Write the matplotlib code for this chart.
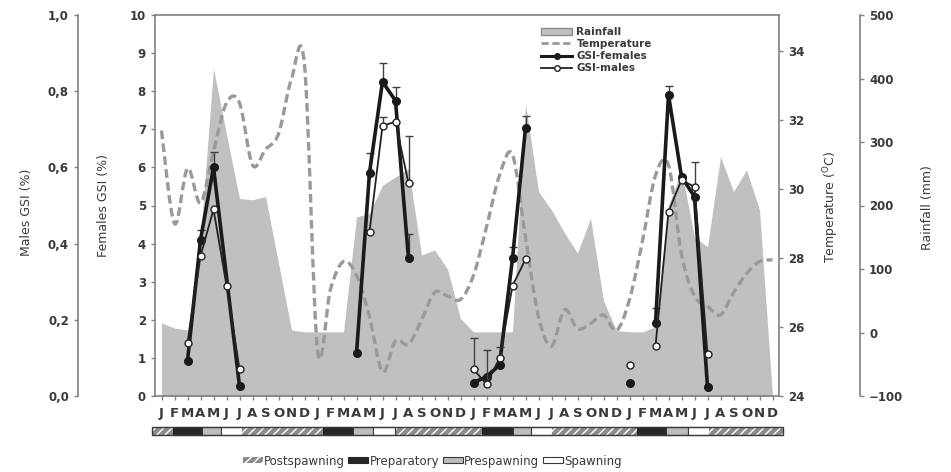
import numpy as np
import matplotlib.pyplot as plt
from matplotlib.path import Path
from matplotlib.patches import PathPatch, Patch, Rectangle
from matplotlib.lines import Line2D

plt.rcParams['font.family'] = ['DejaVu Sans']
plt.rcParams['hatch.linewidth'] = 1.0

# ---- data (48 months, Jan year 1 .. Dec year 4) ----
month_letters = list("JFMAMJJASOND") * 4
months = np.arange(48)

rainfall = [15, 7, 4, 150, 416, 312, 211, 209, 214, 109, 4, 1,
            1, 1, 1, 182, 188, 232, 245, 258, 122, 130, 100, 22,
            1, 1, 1, 1, 360, 222, 193, 157, 125, 180, 50, 3,
            1, 1, 9, 200, 255, 150, 135, 277, 222, 256, 193, -100]

temperature = [31.7, 29.0, 30.6, 29.6, 31.1, 32.5, 32.5, 30.7, 31.15, 31.6, 33.2, 33.6,
               25.35, 27.1, 27.9, 27.5, 26.3, 24.7, 25.6, 25.5, 26.2, 27.0, 26.9, 26.8,
               27.5, 28.9, 30.4, 31.0, 28.6, 26.3, 25.45, 26.5, 25.95, 26.1, 26.35, 25.9,
               26.8, 28.5, 30.4, 30.7, 28.1, 26.9, 26.6, 26.35, 27.0, 27.55, 27.9, 27.95]

fem_months = [2, 3, 4, 6, 15, 16, 17, 18, 19, 24, 25, 26, 27, 28, 36, 38, 39, 40, 41, 42]
fem_gsi = [0.93, 4.1, 6.0, 0.26, 1.12, 5.86, 8.25, 7.75, 3.61,
           0.35, 0.51, 0.81, 3.61, 7.03, 0.35, 1.91, 7.9, 5.76, 5.23, 0.23]
fem_err = [0, 0.26, 0.41, 0, 0, 0.53, 0.5, 0.35, 0.64,
           0, 0, 0, 0.3, 0.32, 0, 0.4, 0.24, 0, 0, 0]
fem_run = [0, 0, 0, 0, 1, 1, 1, 1, 1, 2, 2, 2, 2, 2, 3, 4, 4, 4, 4, 4]

male_months = [2, 3, 4, 5, 6, 16, 17, 18, 19, 24, 25, 26, 27, 28, 36, 38, 39, 40, 41, 42]
male_gsi = [0.14, 0.367, 0.49, 0.29, 0.071, 0.431, 0.709, 0.72, 0.558,
            0.07, 0.031, 0.099, 0.289, 0.359, 0.081, 0.131, 0.484, 0.567, 0.549, 0.11]
male_err = [0, 0, 0, 0, 0, 0, 0.022, 0, 0.124,
            0.082, 0.089, 0.03, 0, 0, 0, 0, 0, 0, 0.066, 0]
male_run = [0, 0, 0, 0, 0, 1, 1, 1, 1, 2, 2, 2, 2, 2, 3, 4, 4, 4, 4, 4]

phase_names = ['Postspawning', 'Preparatory', 'Prespawning', 'Spawning']
phase_seq = [0, 1, 2, 3, 0, 1, 2, 3, 0, 1, 2, 3, 0, 1, 2, 3, 0]
phase_bounds = [-0.7, 0.9, 3.1, 4.6, 6.2, 12.4, 14.7, 16.3, 18.0,
                24.65, 27.0, 28.4, 30.0, 36.6, 38.8, 40.5, 42.1, 47.8]

# ---- styles ----
spine_c = '#808080'
text_c = '#3a3a3a'
rain_c = '#c0c0c0'
temp_c = '#9a9a9a'
phase_style = [dict(facecolor='#8c8c8c', edgecolor='white', hatch='////', lw=0),
               dict(facecolor='#262626', edgecolor='#262626', lw=0.8),
               dict(facecolor='#bdbdbd', edgecolor='#3a3a3a', lw=0.8),
               dict(facecolor='white', edgecolor='#3a3a3a', lw=0.8)]

W, H = 951, 472
fig = plt.figure(figsize=(W / 100, H / 100), dpi=100)
ax = fig.add_axes([155 / W, 76 / H, 624 / W, 381 / H])
ax_rain = ax.twinx()
ax_temp = ax.twinx()
ax_m = ax.twinx()
for z, a in enumerate([ax_rain, ax_temp, ax, ax_m]):
    a.set_zorder(z + 1)
    a.patch.set_visible(False)
    for s in a.spines.values():
        s.set_visible(False)
        s.set_color(spine_c)
        s.set_linewidth(1.2)
    a.tick_params(colors=spine_c, labelcolor=text_c, labelsize=8.5, length=3, width=1)

ax.set_xlim(-0.5, 47.5)

# rainfall
ax_rain.fill_between(months, rainfall, -100, color=rain_c, lw=0)
ax_rain.set_ylim(-100, 500)
ax_rain.set_yticks(range(-100, 501, 100))
ax_rain.spines['right'].set_visible(True)
ax_rain.spines['right'].set_position(('axes', (860 - 155) / 624))

# temperature: smooth dashed curve (bezier through monthly values)
pts = np.column_stack([months, temperature]).astype(float)
verts = [pts[0]]
codes = [Path.MOVETO]
for i in range(len(pts) - 1):
    p0 = pts[max(i - 1, 0)]
    p1 = pts[i]
    p2 = pts[i + 1]
    p3 = pts[min(i + 2, len(pts) - 1)]
    verts += [p1 + (p2 - p0) / 6, p2 - (p3 - p1) / 6, p2]
    codes += [Path.CURVE4] * 3
ax_temp.add_patch(PathPatch(Path(verts, codes), fill=False, edgecolor=temp_c,
                            lw=2.4, linestyle=(0, (2.6, 1.3))))
ax_temp.set_ylim(24, 35.05)
ax_temp.set_yticks(range(24, 35, 2))
ax_temp.spines['right'].set_visible(True)

# GSI females
ax.set_ylim(0, 10)
ax.set_yticks(range(0, 11))
fm = np.array(fem_months)
fg = np.array(fem_gsi)
fe = np.array(fem_err)
fr = np.array(fem_run)
for r in np.unique(fr):
    k = fr == r
    ax.plot(fm[k], fg[k], color='#1a1a1a', lw=2.6, marker='o', ms=5.5,
            mfc='#1a1a1a', mec='#1a1a1a', zorder=3)
k = fe > 0
ax.errorbar(fm[k], fg[k], yerr=[np.zeros(k.sum()), fe[k]], fmt='none',
            ecolor='#404040', elinewidth=1, capsize=3, capthick=1, zorder=2)
ax.spines['left'].set_visible(True)
ax.spines['bottom'].set_visible(True)
ax.spines['top'].set_visible(True)
ax.set_xticks(months)
ax.set_xticklabels(month_letters, fontsize=9.5, fontweight='bold', color=text_c)
ax.tick_params(axis='x', length=3, pad=5)

# GSI males
ax_m.set_ylim(0, 1)
mm = np.array(male_months)
mg = np.array(male_gsi)
me = np.array(male_err)
mr = np.array(male_run)
for r in np.unique(mr):
    k = mr == r
    ax_m.plot(mm[k], mg[k], color='#222222', lw=1.3, marker='o', ms=5,
              mfc='white', mec='#222222', mew=1, zorder=3)
k = me > 0
ax_m.errorbar(mm[k], mg[k], yerr=[np.zeros(k.sum()), me[k]], fmt='none',
              ecolor='#404040', elinewidth=1, capsize=3, capthick=1, zorder=2)
ax_m.yaxis.tick_left()
ax_m.set_yticks(np.arange(0, 1.01, 0.2))
ax_m.set_yticklabels([f"{v:.1f}".replace('.', ',') for v in np.arange(0, 1.01, 0.2)])
ax_m.spines['left'].set_visible(True)
ax_m.spines['left'].set_position(('axes', (78 - 155) / 624))

for a in [ax_rain, ax_temp, ax, ax_m]:
    for lab in a.get_yticklabels():
        lab.set_fontweight('bold')

# axis titles
lab_kw = dict(rotation=90, ha='center', va='center', fontsize=9, color=text_c)
fig.text(27 / W, 1 - 212 / H, 'Males GSI (%)', **lab_kw)
fig.text(104 / W, 1 - 205 / H, 'Females GSI (%)', **lab_kw)
fig.text(831 / W, 1 - 207 / H, r'Temperature ($^{\mathrm{O}}$C)', **lab_kw)
fig.text(928 / W, 1 - 208 / H, 'Rainfall (mm)', **lab_kw)

# inner legend
handles = [Patch(facecolor=rain_c, edgecolor='#8a8a8a', lw=1),
           Line2D([], [], color=temp_c, lw=2, ls=(0, (2.6, 1.3))),
           Line2D([], [], color='#1a1a1a', lw=2.2, marker='o', ms=4),
           Line2D([], [], color='#222222', lw=1.3, marker='o', ms=4, mfc='white')]
leg = ax_m.legend(handles, ['Rainfall', 'Temperature', 'GSI-females', 'GSI-males'],
                  loc='upper left', bbox_to_anchor=((541 - 155) / 624, (396 - 27) / 381),
                  frameon=False, handlelength=3, handletextpad=0.4, labelspacing=0.2,
                  borderaxespad=0, borderpad=0, prop=dict(size=7.5, weight='bold'))
for t in leg.get_texts():
    t.set_color(text_c)

# reproductive phase bar
axp = fig.add_axes([155 / W, (H - 435) / H, 624 / W, 8 / H])
axp.set_xlim(-0.5, 47.5)
axp.set_ylim(0, 1)
axp.axis('off')
for i, ph in enumerate(phase_seq):
    x0, x1 = phase_bounds[i], phase_bounds[i + 1]
    axp.add_patch(Rectangle((x0, 0), x1 - x0, 1, clip_on=False, **phase_style[ph]))
axp.add_patch(Rectangle((phase_bounds[0], 0), phase_bounds[-1] - phase_bounds[0], 1,
                        fill=False, edgecolor='#3a3a3a', lw=1, clip_on=False))

# phase legend
ph_handles = [Patch(**phase_style[i]) for i in range(4)]
fig.legend(ph_handles, phase_names, loc='center', bbox_to_anchor=(432 / W, 1 - 461 / H),
           ncol=4, frameon=False, fontsize=8.5, handlelength=1.7, handleheight=0.45,
           handletextpad=0.1, columnspacing=0.3, labelcolor=text_c)

fig.savefig('out.png', dpi=100, facecolor='white')
